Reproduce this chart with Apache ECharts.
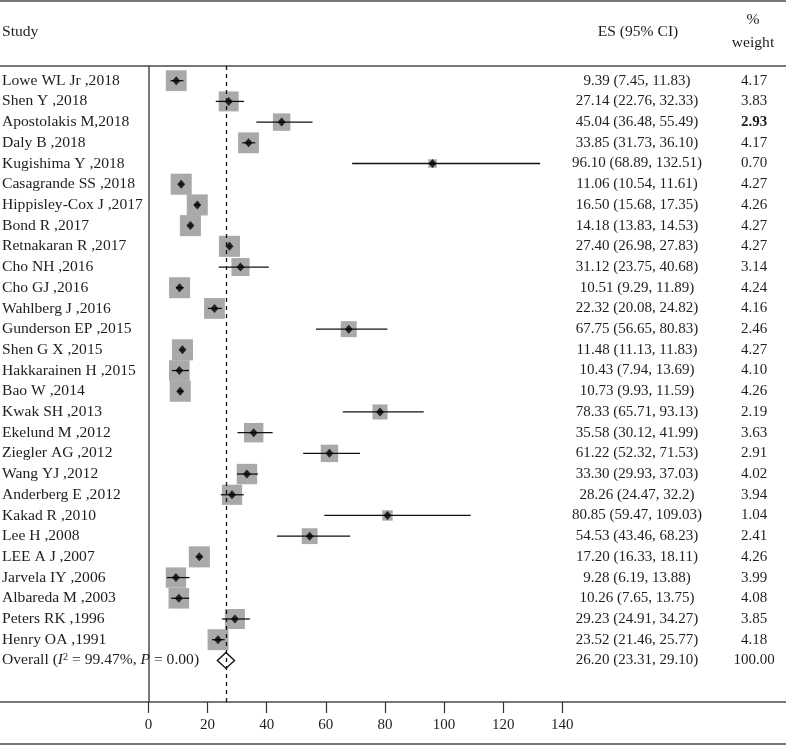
<!DOCTYPE html>
<html><head><meta charset="utf-8">
<script src="https://cdn.jsdelivr.net/npm/echarts@6/dist/echarts.min.js"></script>
<style>html,body{margin:0;padding:0;background:#fff}#c{width:786px;height:745px}</style>
</head><body><div id="c"></div>
<script>
const studies = ["Lowe WL Jr ,2018","Shen Y ,2018","Apostolakis M,2018","Daly B ,2018","Kugishima Y ,2018","Casagrande SS ,2018","Hippisley-Cox J ,2017","Bond R ,2017","Retnakaran R ,2017","Cho NH ,2016","Cho GJ ,2016","Wahlberg J ,2016","Gunderson EP ,2015","Shen G X ,2015","Hakkarainen H ,2015","Bao W ,2014","Kwak SH ,2013","Ekelund M ,2012","Ziegler AG ,2012","Wang YJ ,2012","Anderberg E ,2012","Kakad R ,2010","Lee H ,2008","LEE A J ,2007","Jarvela IY ,2006","Albareda M ,2003","Peters RK ,1996","Henry OA ,1991"];
const es = [9.39,27.14,45.04,33.85,96.10,11.06,16.50,14.18,27.40,31.12,10.51,22.32,67.75,11.48,10.43,10.73,78.33,35.58,61.22,33.30,28.26,80.85,54.53,17.20,9.28,10.26,29.23,23.52];
const lower = [7.45,22.76,36.48,31.73,68.89,10.54,15.68,13.83,26.98,23.75,9.29,20.08,56.65,11.13,7.94,9.93,65.71,30.12,52.32,29.93,24.47,59.47,43.46,16.33,6.19,7.65,24.91,21.46];
const upper = [11.83,32.33,55.49,36.10,132.51,11.61,17.35,14.53,27.83,40.68,11.89,24.82,80.83,11.83,13.69,11.59,93.13,41.99,71.53,37.03,32.2,109.03,68.23,18.11,13.88,13.75,34.27,25.77];
const weights = [4.17,3.83,2.93,4.17,0.70,4.27,4.26,4.27,4.27,3.14,4.24,4.16,2.46,4.27,4.10,4.26,2.19,3.63,2.91,4.02,3.94,1.04,2.41,4.26,3.99,4.08,3.85,4.18];
const ciText = ["9.39 (7.45, 11.83)","27.14 (22.76, 32.33)","45.04 (36.48, 55.49)","33.85 (31.73, 36.10)","96.10 (68.89, 132.51)","11.06 (10.54, 11.61)","16.50 (15.68, 17.35)","14.18 (13.83, 14.53)","27.40 (26.98, 27.83)","31.12 (23.75, 40.68)","10.51 (9.29, 11.89)","22.32 (20.08, 24.82)","67.75 (56.65, 80.83)","11.48 (11.13, 11.83)","10.43 (7.94, 13.69)","10.73 (9.93, 11.59)","78.33 (65.71, 93.13)","35.58 (30.12, 41.99)","61.22 (52.32, 71.53)","33.30 (29.93, 37.03)","28.26 (24.47, 32.2)","80.85 (59.47, 109.03)","54.53 (43.46, 68.23)","17.20 (16.33, 18.11)","9.28 (6.19, 13.88)","10.26 (7.65, 13.75)","29.23 (24.91, 34.27)","23.52 (21.46, 25.77)"];
const overallES = 26.20, overallLower = 23.31, overallUpper = 29.10, overallWeight = 100.00;
const overallCiText = "26.20 (23.31, 29.10)";
const xTicks = [0, 20, 40, 60, 80, 100, 120, 140];

const FONT = '"Liberation Serif","Times New Roman",serif';
const TXT = '#1e1e1e';
const RULE = '#4a4a4a';
const BOX_K = 10.2;
const COL_STUDY = 2, COL_CI = 637, COL_W = 754;
const NAME_FONT = '15.6px ' + FONT;
const NUM_FONT = '15px ' + FONT;

const rows = studies.map((s, i) => [es[i], i, lower[i], upper[i], weights[i]]);
const overallRow = studies.length;

const chart = echarts.init(document.getElementById('c'), null, {renderer: 'canvas'});

chart.setOption({
  animation: false,
  backgroundColor: '#fff',
  grid: {left: 148.5, right: 223.7, top: 66, bottom: 43, containLabel: false},
  xAxis: {
    type: 'value', min: xTicks[0], max: xTicks[xTicks.length - 1], interval: 20, position: 'bottom',
    axisLine: {show: false, onZero: false},
    axisTick: {show: true, length: 11, lineStyle: {color: '#333', width: 1.2}},
    axisLabel: {margin: 16, fontFamily: FONT, fontSize: 15, color: TXT},
    splitLine: {show: false}
  },
  yAxis: {
    type: 'value', min: -0.71, max: 30.01, inverse: true,
    axisLine: {show: true, onZero: false, lineStyle: {color: RULE, width: 1.5}},
    axisTick: {show: false}, axisLabel: {show: false}, splitLine: {show: false}
  },
  graphic: [
    {type: 'line', shape: {x1: 0, y1: 1, x2: 786, y2: 1}, style: {stroke: RULE, lineWidth: 1.5}},
    {type: 'line', shape: {x1: 0, y1: 66, x2: 786, y2: 66}, style: {stroke: RULE, lineWidth: 1.5}},
    {type: 'line', shape: {x1: 0, y1: 702, x2: 786, y2: 702}, style: {stroke: RULE, lineWidth: 1.5}},
    {type: 'line', shape: {x1: 0, y1: 744, x2: 786, y2: 744}, style: {stroke: RULE, lineWidth: 1.5}},
    {type: 'text', style: {x: 2, y: 32, text: 'Study', textAlign: 'left', textVerticalAlign: 'middle', font: NAME_FONT, fill: TXT}},
    {type: 'text', style: {x: 638, y: 32, text: 'ES (95% CI)', textAlign: 'center', textVerticalAlign: 'middle', font: NAME_FONT, fill: TXT}},
    {type: 'text', style: {x: 753, y: 20, text: '%', textAlign: 'center', textVerticalAlign: 'middle', font: NAME_FONT, fill: TXT}},
    {type: 'text', style: {x: 753, y: 43, text: 'weight', textAlign: 'center', textVerticalAlign: 'middle', font: NAME_FONT, fill: TXT}}
  ],
  series: [
    {
      type: 'scatter', z: 1, silent: true, symbolSize: 0,
      data: [[overallES, overallRow]],
      markLine: {
        silent: true, symbol: 'none', label: {show: false},
        lineStyle: {color: '#111', width: 1.3, type: [4, 4]},
        data: [{xAxis: overallES}]
      }
    },
    {
      type: 'custom', z: 2, data: rows,
      renderItem: (p, api) => {
        const c = api.coord([api.value(0), api.value(1)]);
        const s = BOX_K * Math.sqrt(api.value(4));
        return {type: 'rect', shape: {x: c[0] - s / 2, y: c[1] - s / 2, width: s, height: s}, style: {fill: '#a9a9a9'}};
      }
    },
    {
      type: 'custom', z: 3, data: rows,
      renderItem: (p, api) => {
        const a = api.coord([api.value(2), api.value(1)]);
        const b = api.coord([api.value(3), api.value(1)]);
        return {type: 'line', shape: {x1: a[0], y1: a[1], x2: b[0], y2: b[1]}, style: {stroke: '#111', lineWidth: 1.3}};
      }
    },
    {
      type: 'scatter', z: 4, symbol: 'diamond', symbolSize: [8, 9],
      itemStyle: {color: '#000'},
      data: rows.map(r => [r[0], r[1]])
    },
    {
      type: 'custom', z: 4, data: [[overallES, overallRow, overallLower, overallUpper]],
      renderItem: (p, api) => {
        const m = api.coord([api.value(0), api.value(1)]);
        const l = api.coord([api.value(2), api.value(1)]);
        const h = api.coord([api.value(3), api.value(1)]);
        return {type: 'polygon', shape: {points: [[l[0], m[1]], [m[0], m[1] - 8], [h[0], m[1]], [m[0], m[1] + 8]]},
                style: {fill: 'none', stroke: '#111', lineWidth: 1.4}};
      }
    },
    {
      type: 'custom', z: 5, silent: true, clip: false,
      data: rows.map((r, i) => [0, i, weights[i]]),
      renderItem: (p, api) => {
        const i = p.dataIndex;
        const y = api.coord([0, api.value(1)])[1];
        return {type: 'group', children: [
          {type: 'text', style: {x: COL_STUDY, y: y, text: studies[i], textAlign: 'left', textVerticalAlign: 'middle', font: NAME_FONT, fill: TXT}},
          {type: 'text', style: {x: COL_CI, y: y, text: ciText[i], textAlign: 'center', textVerticalAlign: 'middle', font: NUM_FONT, fill: TXT}},
          {type: 'text', style: {x: COL_W, y: y, text: weights[i].toFixed(2), textAlign: 'center', textVerticalAlign: 'middle', font: (i === 2 ? 'bold ' : '') + NUM_FONT, fill: TXT}}
        ]};
      }
    },
    {
      type: 'custom', z: 5, silent: true, clip: false,
      data: [[0, overallRow, overallWeight]],
      renderItem: (p, api) => {
        const y = api.coord([0, api.value(1)])[1];
        return {type: 'group', children: [
          {type: 'text', style: {x: COL_STUDY, y: y, text: 'Overall ({i|I}{sup|2} = 99.47%, {i|P} = 0.00)', textAlign: 'left', textVerticalAlign: 'middle', font: NAME_FONT, fill: TXT,
            rich: {i: {fontStyle: 'italic', fontFamily: FONT, fontSize: 15.6, fill: TXT}, sup: {fontFamily: FONT, fontSize: 10, verticalAlign: 'top', fill: TXT}}}},
          {type: 'text', style: {x: COL_CI, y: y, text: overallCiText, textAlign: 'center', textVerticalAlign: 'middle', font: NUM_FONT, fill: TXT}},
          {type: 'text', style: {x: COL_W, y: y, text: api.value(2).toFixed(2), textAlign: 'center', textVerticalAlign: 'middle', font: NUM_FONT, fill: TXT}}
        ]};
      }
    }
  ]
});
</script></body></html>
